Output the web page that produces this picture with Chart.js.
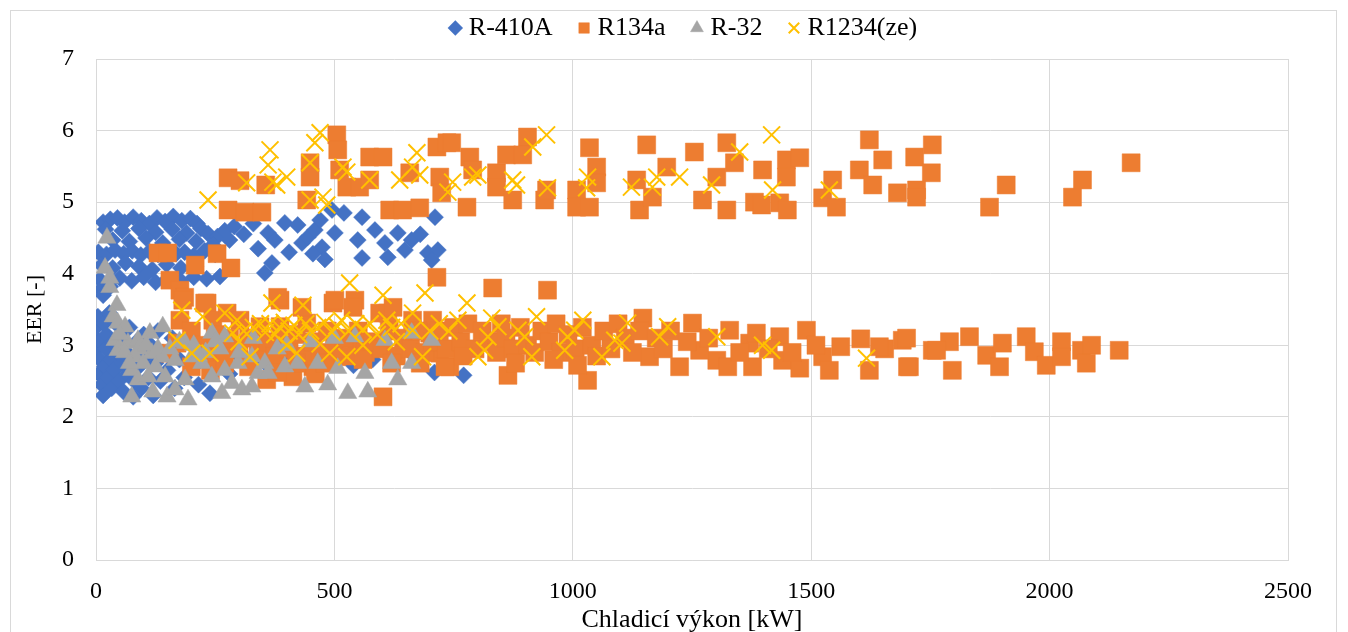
<!DOCTYPE html>
<html>
<head>
<meta charset="utf-8">
<script src="https://cdn.jsdelivr.net/npm/chart.js@4.4.0/dist/chart.umd.min.js"></script>
<style>
  html, body { margin: 0; padding: 0; background: #ffffff; }
  #wrap { width: 1348px; height: 632px; }
</style>
</head>
<body>
<div id="wrap"><canvas id="c" width="1348" height="632"></canvas></div>
<script>
// Chiller cooling capacity [kW] vs EER [-], pairs of [kW, EER]
const R410A = [
  [15,4.72],[30,4.76],[45,4.78],[60,4.72],[78,4.79],[95,4.74],[112,4.70],[128,4.78],[145,4.73],[162,4.80],[180,4.74],[198,4.77],[212,4.70],
  [20,4.62],[55,4.60],[90,4.63],[125,4.58],[160,4.62],[190,4.57],[220,4.63],[235,4.56],[255,4.52],[270,4.60],[290,4.66],[310,4.55],
  [35,4.47],[70,4.45],[105,4.50],[140,4.43],[175,4.48],[210,4.45],[245,4.40],[280,4.47],
  [5,4.30],[22,4.27],[40,4.33],[58,4.28],[76,4.32],[94,4.26],[112,4.31],[130,4.27],[150,4.33],[168,4.28],[186,4.30],[205,4.25],[228,4.32],[250,4.27],
  [12,4.12],[35,4.08],[62,4.15],[90,4.10],[118,4.06],[148,4.13],[178,4.08],[208,4.10],
  [8,3.92],[28,3.88],[50,3.94],[75,3.90],[100,3.95],[125,3.88],[150,3.93],[178,3.90],[205,3.95],[232,3.93],[260,3.96],
  [10,3.78],[30,3.82],[15,3.70],
  [361,4.57],[375,4.47],[396,4.71],[423,4.68],[432,4.43],[444,4.51],[459,4.61],[474,4.37],[495,4.89],[501,4.57],
  [369,4.15],[354,4.01],[558,4.79],[549,4.47],[558,4.22],[585,4.61],[606,4.43],[612,4.23],[633,4.57],[662,4.47],
  [648,4.33],[696,4.29],[711,4.79],[717,4.33],[704,4.19],[520,4.85],[470,4.75],[330,4.70],[340,4.35],[405,4.30],
  [455,4.28],[480,4.20],[680,4.55],
  [0,3.10],[0,3.25],[2,2.95],[4,3.40],[6,2.60],[8,2.80],[10,3.05],[12,2.45],[15,2.30],[16,3.30],[18,2.70],[20,2.95],
  [22,3.15],[25,2.55],[28,3.45],[30,2.80],[33,2.40],[35,3.05],[38,2.65],[42,3.30],[45,2.90],[48,2.50],[52,3.15],
  [55,2.75],[58,2.35],[62,3.00],[65,2.60],[70,3.25],[72,2.85],[78,2.28],[80,2.50],[85,3.05],[90,2.70],[95,2.40],
  [100,3.15],[105,2.85],[110,2.55],[115,3.00],[120,2.30],[125,2.75],[130,3.20],[135,2.50],[140,2.90],[150,2.65],
  [160,3.10],[165,2.40],[175,2.80],[185,2.55],[195,3.05],[205,2.70],[215,2.45],[225,2.90],[239,2.33],[250,2.80],
  [265,3.05],[280,2.60],[300,2.85],[325,2.70],[355,2.75],[390,2.85],[412,2.93],[430,2.80],[460,2.70],[500,2.85],
  [540,2.72],[580,2.80],[625,2.78],[660,2.90],[710,2.62],[771,2.58]
];

const R134A = [
  [277,5.34],[302,5.30],[277,4.89],[312,4.86],[348,4.86],[356,5.24],
  [449,5.55],[449,5.35],[442,5.03],[505,5.94],[507,5.73],[511,5.45],[526,5.21],[553,5.21],[574,5.63],[602,5.63],
  [574,5.31],[616,4.89],[643,4.89],[679,4.92],[658,5.41],[715,5.77],[736,5.83],[721,5.35],[725,5.13],
  [746,5.83],[784,5.63],[790,5.45],[778,4.93],[840,5.41],[861,5.66],[905,5.91],[895,5.66],[840,5.21],[874,5.03],
  [941,5.03],[945,5.17],[1035,5.76],[1050,5.49],[1050,5.27],[1008,5.17],[1008,4.93],[1035,4.93],[1155,5.80],
  [1140,4.89],[1134,5.31],[1197,5.49],[1167,5.07],[1255,5.70],[1323,5.83],[1302,5.35],[1272,5.03],[1323,4.89],
  [1339,5.55],[1398,5.45],[1448,5.59],[1476,5.62],[1448,5.35],[1381,5.00],[1396,4.96],[1434,4.99],[1450,4.89],
  [1545,5.31],[1524,5.06],[1553,4.93],[1601,5.45],[1622,5.87],[1650,5.59],[1629,5.24],[1681,5.13],[1717,5.63],
  [1754,5.80],[1752,5.41],[1721,5.17],[1721,5.07],[1874,4.93],[1909,5.24],[2048,5.07],[2069,5.31],[2171,5.55],
  [130,4.29],[150,4.29],[208,4.12],[254,4.28],[283,4.08],[155,3.91],[176,3.77],[186,3.67],[228,3.59],[715,3.95],
  [170,3.03],[155,2.89],[176,3.35],[182,3.63],[233,3.59],[245,3.35],[275,3.45],[302,3.35],[344,3.26],[386,3.63],
  [386,3.26],[442,3.31],[497,3.59],[501,3.63],[543,3.63],[539,3.53],[381,3.67],[432,3.53],[595,3.45],[612,3.45],
  [623,3.53],[664,3.35],[706,3.35],[742,2.70],[602,2.28],[358,2.52],[413,2.56],[455,2.70],[505,2.84],[547,2.98],
  [700,3.17],[721,2.89],[732,2.70],
  [200,3.20],[215,3.00],[230,2.85],[250,3.15],[265,2.90],[280,3.10],[300,2.95],[320,3.10],[340,2.90],[360,3.05],
  [375,2.85],[390,3.10],[405,2.95],[420,3.15],[440,2.85],[455,3.05],[470,2.90],[485,3.20],[500,2.95],[520,3.10],
  [535,2.85],[550,3.20],[565,2.90],[580,3.05],[600,2.95],[615,3.20],[630,2.85],[645,3.10],[660,2.95],[675,3.20],
  [690,2.90],[705,3.05],[720,3.20],[735,2.95],[200,2.70],[240,2.65],[270,2.75],[320,2.70],[380,2.62],[420,2.75],
  [460,2.60],[480,2.75],[560,2.80],[620,2.75],[680,2.75],
  [832,3.80],[947,3.77],[864,2.58],[1031,2.51],[1161,2.84],[1224,2.70],[1147,3.38],[1251,3.31],[1302,2.79],
  [1325,2.70],[1266,2.93],[1329,3.21],[1371,3.03],[1377,2.70],[1385,3.17],[1434,3.12],[1440,2.79],[1476,2.68],
  [1490,3.21],[1524,2.84],[1538,2.65],[1562,2.98],[1604,3.09],[1622,2.65],[1654,2.95],[1691,3.07],[1706,2.70],
  [1754,2.93],[1790,3.05],
  [750,3.25],[765,3.05],[780,3.30],[795,2.95],[810,3.20],[825,3.05],[840,2.90],[850,3.30],[860,3.10],[875,2.95],
  [890,3.25],[905,3.00],[920,2.90],[935,3.20],[950,3.05],[965,3.30],[975,2.90],[990,3.15],[1005,2.95],[1020,3.25],
  [1040,3.00],[1050,2.85],[1065,3.20],[1080,2.95],[1095,3.30],[1110,3.10],[1125,2.90],[1140,3.20],[770,2.85],
  [880,2.75],[960,2.80],[1010,2.72],[1175,3.10],[1190,2.95],[1205,3.20],[1240,3.05],[1285,3.10],[1350,2.90],
  [1410,2.95],[1460,2.90],[1510,3.00],
  [1643,2.98],[1700,3.10],[1702,2.70],[1763,2.93],[1796,2.65],[1832,3.12],[1868,2.86],[1895,2.70],[1901,3.03],
  [1951,3.12],[1968,2.91],[1993,2.72],[2025,3.05],[2025,2.84],[2067,2.93],[2088,3.00],[2077,2.75],[2146,2.93]
];

const R32 = [
  [23,4.50],[19,4.08],[29,3.94],[29,3.81],[44,3.56],[36,3.40],[46,3.31],[61,3.26],[40,3.07],[46,2.93],[67,3.03],
  [88,3.07],[113,3.17],[140,3.26],[82,2.84],[99,2.75],[117,2.89],[138,2.84],[75,2.65],[88,2.52],[109,2.56],
  [145,2.56],[75,2.28],[119,2.35],[149,2.28],[166,2.38],[187,2.52],[193,2.24],[166,2.79],[201,2.84],[187,3.03],
  [243,3.17],[270,3.12],[222,2.75],[243,2.56],[270,2.65],[298,2.75],[327,2.84],[285,2.47],[264,2.33],[306,2.38],
  [327,2.42],[340,2.61],[354,2.75],[361,2.61],[396,2.70],[423,2.75],[438,2.42],[465,2.75],[486,2.45],[507,2.68],
  [528,2.33],[543,3.12],[564,2.61],[570,2.35],[606,3.07],[620,2.75],[633,2.52],[662,3.17],[662,2.75],[704,3.07],
  [60,2.90],[50,3.15],[70,2.75],[90,2.95],[105,3.00],[125,2.70],[130,2.95],[155,2.95],[175,3.05],[205,3.00],
  [230,2.90],[250,3.05],[215,2.85],[330,3.10],[400,3.00],[450,3.05],[500,3.10],[260,2.95],[300,2.90],[380,2.95]
];

const R1234ZE = [
  [235,5.03],[365,5.73],[361,5.52],[400,5.35],[371,5.28],[470,5.97],[459,5.83],[449,5.55],[518,5.49],[526,5.42],
  [574,5.31],[449,5.03],[476,5.07],[484,4.96],[673,5.69],[664,5.49],[679,5.38],[637,5.31],[748,5.28],[738,5.14],
  [790,5.35],[801,5.38],[874,5.31],[882,5.24],[916,5.77],[945,5.94],[947,5.20],[1031,5.35],[1029,5.20],[1123,5.21],
  [1167,5.21],[1176,5.35],[1224,5.35],[1291,5.24],[1350,5.70],[1417,5.94],[1419,5.17],[1538,5.17],[316,5.27],[379,5.24],
  [180,3.49],[224,3.40],[270,3.45],[296,3.35],[369,3.59],[434,3.56],[170,3.07],[201,2.89],[239,2.89],[287,3.17],
  [323,2.84],[421,2.89],[490,2.89],[526,2.84],[532,3.87],[602,3.70],[690,3.73],[610,3.35],[664,3.45],[685,2.84],
  [664,3.21],[778,3.59],[759,3.35],[830,3.38],[843,3.26],[822,3.12],[815,2.93],[801,2.84],[885,3.21],[899,3.12],
  [924,3.40],[914,2.84],[989,3.12],[983,2.93],[1021,3.35],[1004,3.21],[1061,2.84],[1088,3.07],[1115,3.31],[1103,3.03],
  [1182,3.12],[1199,3.26],[1302,3.12],[1398,3.00],[1417,2.93],[1616,2.82],
  [310,3.20],[330,3.25],[345,3.30],[355,3.18],[365,3.30],[375,3.15],[385,3.25],[395,3.32],[405,3.20],[415,3.28],
  [425,3.15],[440,3.30],[450,3.20],[465,3.25],[480,3.32],[495,3.18],[505,3.27],[515,3.35],[530,3.20],[545,3.30],
  [560,3.22],[575,3.30],[590,3.15],[620,3.25],[640,3.30],[700,3.20],[720,3.30],[740,3.20],[300,3.05],[560,3.00],
  [470,3.02],[400,3.00],[630,3.05]
];

const SERIES_NAMES = ['R-410A', 'R134a', 'R-32', 'R1234(ze)'];
const X_TICKS = [0, 500, 1000, 1500, 2000, 2500];
const Y_TICKS = [0, 1, 2, 3, 4, 5, 6, 7];

const FONT = 'Liberation Serif, Times New Roman, serif';
const toPts = arr => arr.map(p => ({ x: p[0], y: p[1] }));

// white page and the light grey frame around the whole chart
const frame = {
  id: 'frame',
  beforeDraw(chart) {
    const ctx = chart.ctx;
    ctx.save();
    ctx.fillStyle = '#ffffff';
    ctx.fillRect(0, 0, chart.width, chart.height);
    ctx.strokeStyle = '#d9d9d9';
    ctx.lineWidth = 1;
    ctx.strokeRect(10.5, 10.5, 1326, 700);
    ctx.restore();
  }
};

// fixed legend band height so the plot starts at the same place every time
const legendBand = {
  id: 'legendBand',
  beforeInit(chart) {
    const legend = chart.legend;
    const origFit = legend.fit;
    legend.fit = function () {
      origFit.call(this);
      this.height = 75;
    };
  }
};

new Chart(document.getElementById('c'), {
  type: 'scatter',
  data: {
    datasets: [
      { label: SERIES_NAMES[0], data: toPts(R410A), order: 4, pointStyle: 'rectRot', pointRadius: 8.5, pointHoverRadius: 8.5,
        backgroundColor: '#4472C4', borderColor: '#4472C4', borderWidth: 0.5 },
      { label: SERIES_NAMES[1], data: toPts(R134A), order: 3, pointStyle: 'rect', pointRadius: 12.7, pointHoverRadius: 12.7,
        backgroundColor: '#ED7D31', borderColor: '#ED7D31', borderWidth: 0.5 },
      { label: SERIES_NAMES[2], data: toPts(R32), order: 2, pointStyle: 'triangle', pointRadius: 10.5, pointHoverRadius: 10.5,
        backgroundColor: '#A5A5A5', borderColor: '#A5A5A5', borderWidth: 0.5 },
      { label: SERIES_NAMES[3], data: toPts(R1234ZE), order: 1, pointStyle: 'crossRot', pointRadius: 12, pointHoverRadius: 12,
        backgroundColor: '#FFC000', borderColor: '#FFC000', borderWidth: 2 }
    ]
  },
  options: {
    responsive: false,
    animation: false,
    devicePixelRatio: 1,
    layout: { padding: { left: 24, right: 0, top: -16, bottom: 0 } },
    plugins: {
      tooltip: { enabled: false },
      legend: {
        position: 'top',
        labels: {
          usePointStyle: true,
          boxWidth: 1,
          boxHeight: 10.5,
          padding: 31,
          color: '#000000',
          font: { family: FONT, size: 26 },
          sort: (a, b) => a.datasetIndex - b.datasetIndex
        }
      }
    },
    scales: {
      x: {
        type: 'linear',
        min: 0, max: 2500,
        afterBuildTicks: s => { s.ticks = X_TICKS.map(v => ({ value: v })); },
        afterFit: s => { s.height = 72; },
        grid: { color: '#d9d9d9', lineWidth: 1, drawTicks: false },
        border: { color: '#d9d9d9' },
        ticks: { color: '#000000', font: { family: FONT, size: 24 }, padding: 17, maxRotation: 0, autoSkip: false,
                 callback: v => String(v) },
        title: { display: true, text: 'Chladicí výkon [kW]', color: '#000000', font: { family: FONT, size: 26 },
                 padding: { top: 0, bottom: -4 } }
      },
      y: {
        type: 'linear',
        min: 0, max: 7,
        afterBuildTicks: s => { s.ticks = Y_TICKS.map(v => ({ value: v })); },
        afterFit: s => { s.width = 72; },
        grid: { color: '#d9d9d9', lineWidth: 1, drawTicks: false },
        border: { color: '#d9d9d9' },
        ticks: { color: '#000000', font: { family: FONT, size: 24 }, padding: 22 },
        title: { display: true, text: 'EER [-]', color: '#000000', font: { family: FONT, size: 22 }, padding: { top: -2, bottom: 0 } }
      },
      // empty right-hand band that keeps the plot's right edge at 2500 kW
      yRight: {
        type: 'linear',
        position: 'right',
        display: true,
        afterFit: s => { s.width = 60; },
        grid: { display: false, drawTicks: false },
        border: { display: false },
        ticks: { display: false }
      }
    }
  },
  plugins: [frame, legendBand]
});
</script>
</body>
</html>
